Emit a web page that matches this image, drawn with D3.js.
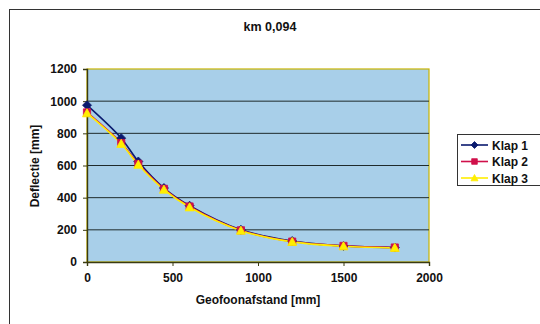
<!DOCTYPE html>
<html><head><meta charset="utf-8">
<script src="https://cdn.jsdelivr.net/npm/d3@7"></script>
<style>body{margin:0;background:#fff}svg{display:block}text{font-family:"Liberation Sans",Arial,sans-serif;font-weight:bold;fill:#111}</style>
</head><body><svg id="c" width="540" height="324"></svg>
<script>
const distances = [0, 200, 300, 450, 600, 900, 1200, 1500, 1800];
const klap1 = [975, 770, 625, 460, 350, 200, 130, 100, 90];
const klap2 = [930, 740, 610, 455, 345, 197, 127, 100, 90];
const klap3 = [925, 735, 605, 450, 340, 195, 125, 98, 88];
const seriesNames = ["Klap 1", "Klap 2", "Klap 3"];
const xTicks = [0, 500, 1000, 1500, 2000];
const yTicks = [0, 200, 400, 600, 800, 1000, 1200];

const series = [
  {name: seriesNames[0], values: klap1, color: "#0a1a6e", shape: "diamond"},
  {name: seriesNames[1], values: klap2, color: "#d0104a", shape: "square"},
  {name: seriesNames[2], values: klap3, color: "#ffee00", shape: "triangle"}
];

const svg = d3.select("#c");
svg.append("rect").attr("x",9.5).attr("y",9.5).attr("width",540).attr("height",330)
  .attr("fill","#fff").attr("stroke","#333").attr("stroke-width",1);

const x = d3.scaleLinear().domain([0,2000]).range([87,429]);
const y = d3.scaleLinear().domain([0,1200]).range([262,69]);

svg.append("rect").attr("x",87).attr("y",69).attr("width",342).attr("height",193)
  .attr("fill","#a8cfe9").attr("stroke","#c8b400").attr("stroke-width",1.2);

svg.append("g").selectAll("line").data(yTicks.slice(1,-1)).join("line")
  .attr("x1",87).attr("x2",429).attr("y1",d=>y(d)).attr("y2",d=>y(d))
  .attr("stroke","#1f2b2b").attr("stroke-width",1);

const fmt = d3.format("d");
const xAxis = svg.append("g").attr("transform","translate(0,262)")
  .call(d3.axisBottom(x).tickValues(xTicks).tickFormat(fmt).tickSize(4).tickPadding(7));
const yAxis = svg.append("g").attr("transform","translate(87,0)")
  .call(d3.axisLeft(y).tickValues(yTicks).tickFormat(fmt).tickSize(4).tickPadding(6));
[xAxis,yAxis].forEach(a=>{
  a.select(".domain").attr("stroke","#3a3a10").attr("stroke-width",1.4);
  a.selectAll(".tick line").attr("stroke","#3a3a10");
  a.selectAll("text").attr("font-size",12).attr("font-family","Liberation Sans, Arial, sans-serif").attr("font-weight","bold").attr("fill","#111");
});

const line = d3.line().x((d,i)=>x(distances[i])).y(d=>y(d)).curve(d3.curveCatmullRom.alpha(0.5));

function marker(g, shape, color, r){
  let d;
  if(shape==="diamond") d=`M0,${-r}L${r},0L0,${r}L${-r},0Z`;
  else if(shape==="square") d=`M${-r*0.8},${-r*0.8}H${r*0.8}V${r*0.8}H${-r*0.8}Z`;
  else d=`M0,${-r}L${r},${r*0.8}L${-r},${r*0.8}Z`;
  g.append("path").attr("d",d).attr("fill",color).attr("stroke",color).attr("stroke-width",0.8);
}

series.forEach(s=>{
  svg.append("path").datum(s.values).attr("d",line).attr("fill","none")
    .attr("stroke",s.color).attr("stroke-width",1.6);
});
series.forEach(s=>{
  s.values.forEach((v,i)=>{
    const g = svg.append("g").attr("transform",`translate(${x(distances[i])},${y(v)})`);
    marker(g, s.shape, s.color, 4.5);
  });
});

svg.append("text").attr("x",270).attr("y",31).attr("text-anchor","middle").attr("font-size",12.5).text("km 0,094");
svg.append("text").attr("x",258).attr("y",304).attr("text-anchor","middle").attr("font-size",12).text("Geofoonafstand [mm]");
svg.append("text").attr("transform","translate(39,166) rotate(-90)").attr("text-anchor","middle").attr("font-size",12).text("Deflectie [mm]");

const lg = svg.append("g").attr("transform","translate(457,134)");
lg.append("rect").attr("x",0.5).attr("y",0.5).attr("width",90).attr("height",51).attr("fill","#fff").attr("stroke","#333");
series.forEach((s,i)=>{
  const yy = 11 + i*16.5;
  lg.append("line").attr("x1",4).attr("x2",31).attr("y1",yy).attr("y2",yy).attr("stroke",s.color).attr("stroke-width",1.6);
  const g = lg.append("g").attr("transform",`translate(17.5,${yy})`);
  marker(g, s.shape, s.color, 3.5);
  lg.append("text").attr("x",35).attr("y",yy+4.5).attr("font-size",12).text(s.name);
});
</script></body></html>
